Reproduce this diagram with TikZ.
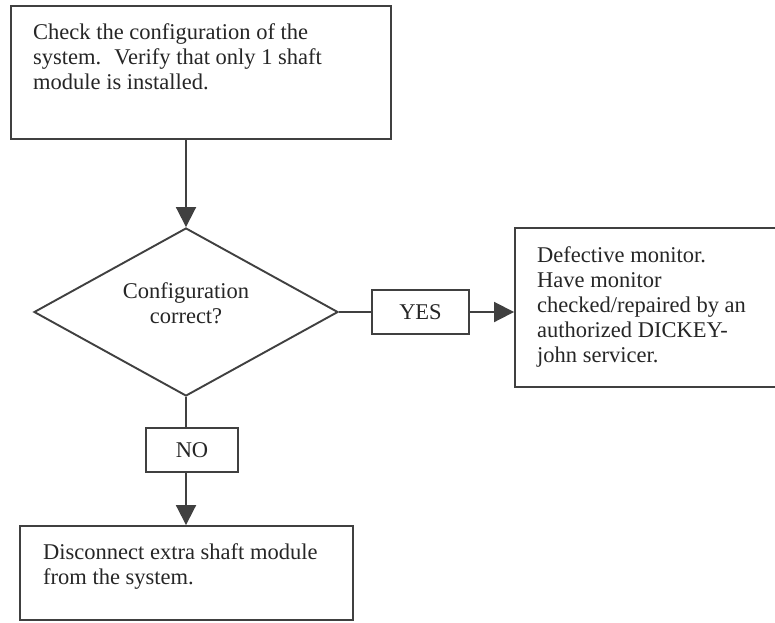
\documentclass[tikz,border=0pt]{standalone}
\usepackage{fontspec}
\setmainfont{Liberation Serif}
\usetikzlibrary{shapes.geometric,arrows.meta}
\begin{document}
\begin{tikzpicture}[x=1pt,y=-1pt,
  boxline/.style={draw=black!75,line width=1.9pt,rectangle,inner sep=0pt},
  txt/.style={font=\fontsize{22.5}{25}\selectfont,text=black!85,inner sep=0pt,align=left},
  link/.style={draw=black!75,line width=1.9pt},
  arr/.style={link,-{Triangle[width=20pt,length=20pt]}}
]
\useasboundingbox (0,0) rectangle (775,622);
\fill[white] (0,0) rectangle (775,622);

% boxes
\node[boxline,minimum width=380pt,minimum height=133pt] (check) at (201,72.5) {};
\node[boxline,shape=diamond,minimum width=304pt,minimum height=168pt] (config) at (186,312) {};
\node[boxline,minimum width=97pt,minimum height=44pt] (yes) at (420.5,312) {};
\node[boxline,minimum width=270pt,minimum height=159pt] (defect) at (650,307.5) {};
\node[boxline,minimum width=92pt,minimum height=44pt] (no) at (192,450) {};
\node[boxline,minimum width=333pt,minimum height=94pt] (disc) at (186.5,573) {};

% texts
\node[txt,anchor=north west] (checktext) at (33,23)
  {Check the configuration of the\\system.\hspace{0.25em} Verify that only 1 shaft\\module is installed.};
\node[txt,align=center,anchor=north] (configtext) at (186,282) {Configuration\\correct?};
\node[txt] (yestext) at (yes) {YES};
\node[txt] (notext) at (no) {NO};
\node[txt,anchor=north west] (defecttext) at (537,246)
  {Defective monitor.\\Have monitor\\checked/repaired by an\\authorized DICKEY-\\john servicer.};
\node[txt,anchor=north west] (disctext) at (43,543)
  {Disconnect extra shaft module\\from the system.};

% connectors
\draw[arr] (config.north |- check.south) -- (config.north);
\draw[link] (config.east) -- (yes.west);
\draw[arr] (yes.east) -- (defect.west |- yes.east);
\draw[link] (config.south) -- (config.south |- no.north);
\draw[arr] (config.south |- no.south) -- (config.south |- disc.north);
\end{tikzpicture}
\end{document}
